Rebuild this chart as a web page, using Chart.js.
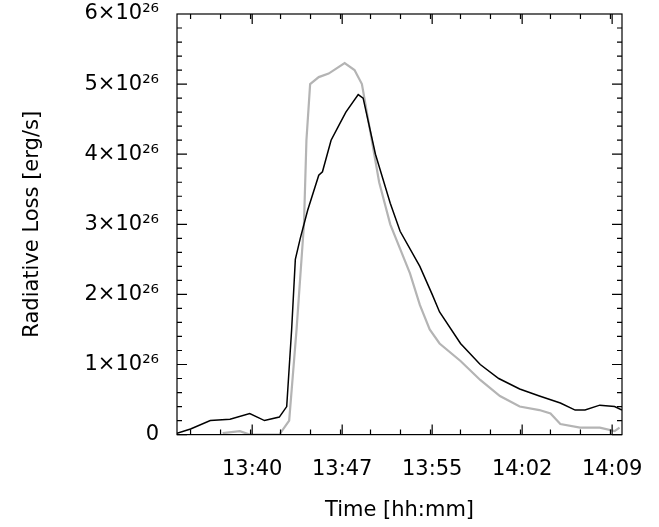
<!DOCTYPE html>
<html><head><meta charset="utf-8">
<script src="https://cdn.jsdelivr.net/npm/chart.js@4/dist/chart.umd.min.js"></script>
<style>body{margin:0;background:#fff}#c{display:block}</style></head>
<body><canvas id="c" width="659" height="527"></canvas>
<script>
// time in minutes after 13:00, values in units of 1e26 erg/s
const blackTime = [33.9,35.0,36.6,38.2,39.8,41.0,42.2,42.8,43.2,43.5,43.9,44.5,45.4,45.7,46.4,47.0,47.6,48.6,49.0,50.0,51.2,52.0,53.6,54.6,55.2,56.9,58.5,60.0,61.7,63.3,65.0,66.2,67.0,68.2,69.4,70.0];
const blackVals = [0.02,0.08,0.2,0.22,0.3,0.2,0.25,0.4,1.5,2.5,2.8,3.2,3.7,3.75,4.2,4.4,4.6,4.85,4.8,4.0,3.3,2.9,2.4,2.0,1.75,1.3,1.0,0.8,0.65,0.55,0.45,0.35,0.35,0.42,0.4,0.35];
const grayTime = [37.6,39.0,39.8,42.2,43.0,43.6,44.2,44.4,44.7,45.4,46.2,47.5,48.3,48.9,49.5,50.3,51.2,52.0,52.8,53.6,54.4,55.2,56.9,58.5,60.1,61.7,63.3,64.2,65.0,66.6,68.2,69.4,69.8];
const grayVals = [0.02,0.05,0.0,0.0,0.2,1.5,3.0,4.2,5.0,5.1,5.15,5.3,5.2,5.0,4.4,3.6,3.0,2.65,2.3,1.85,1.5,1.3,1.05,0.78,0.55,0.4,0.35,0.3,0.15,0.1,0.1,0.05,0.1];
const xTicks = [40,47.3,54.6,61.9,69.2];
const xTickLabels = ['13:40','13:47','13:55','14:02','14:09'];
const yTicks = [0,1,2,3,4,5,6];
const yTickLabels = ['0','1×10²⁶','2×10²⁶','3×10²⁶','4×10²⁶','5×10²⁶','6×10²⁶'];

const font = {family:'DejaVu Sans', size:21};
const frame = {
  id:'frame',
  afterDraw(ch){
    const c=ch.ctx,a=ch.chartArea,x=ch.scales.x,y=ch.scales.y;
    c.save();c.strokeStyle='#000';c.lineWidth=1.2;
    c.strokeRect(a.left,a.top,a.right-a.left,a.bottom-a.top);
    c.beginPath();
    xTicks.forEach(v=>{const p=x.getPixelForValue(v);
      c.moveTo(p,a.bottom);c.lineTo(p,a.bottom-10);c.moveTo(p,a.top);c.lineTo(p,a.top+10);});
    for(let v=35;v<70;v+=2.433){const p=x.getPixelForValue(v);
      c.moveTo(p,a.bottom);c.lineTo(p,a.bottom-5);c.moveTo(p,a.top);c.lineTo(p,a.top+5);}
    for(let v=0;v<=6;v+=0.2){const p=y.getPixelForValue(v);const big=Math.abs(v-Math.round(v))<0.01;
      const l=big?10:5;c.moveTo(a.left,p);c.lineTo(a.left+l,p);c.moveTo(a.right,p);c.lineTo(a.right-l,p);}
    c.stroke();c.restore();
  }
};
new Chart(document.getElementById('c'),{
  type:'line',
  data:{datasets:[
    {data:blackTime.map((t,i)=>({x:t,y:blackVals[i]})),borderColor:'#000',borderWidth:1.5,pointRadius:0,tension:0},
    {data:grayTime.map((t,i)=>({x:t,y:grayVals[i]})),borderColor:'#b4b4b4',borderWidth:2.2,pointRadius:0,tension:0}
  ]},
  options:{
    responsive:false,animation:false,
    layout:{padding:{top:14,right:37,left:16,bottom:4}},
    plugins:{legend:{display:false},tooltip:{enabled:false}},
    scales:{
      x:{type:'linear',min:33.9,max:70.0,
        afterBuildTicks:s=>{s.ticks=xTicks.map(v=>({value:v}));},
        ticks:{color:'#000',font:font,maxRotation:0,padding:14,autoSkip:false,
          callback:(v)=>xTickLabels[xTicks.indexOf(v)]},
        grid:{display:false},border:{display:false},
        title:{display:true,text:'Time [hh:mm]',color:'#000',font:font,padding:{top:2,bottom:0}}},
      y:{min:0,max:6,
        afterBuildTicks:s=>{s.ticks=yTicks.map(v=>({value:v}));},
        afterFit:s=>{s.width=161;s.paddingTop=0;s.paddingBottom=0;},
        ticks:{color:'#000',font:font,padding:10,callback:(v)=>yTickLabels[yTicks.indexOf(v)]},
        grid:{display:false},border:{display:false},
        title:{display:true,text:'Radiative Loss [erg/s]',color:'#000',font:font}}
    }
  },
  plugins:[frame]
});
</script></body></html>
